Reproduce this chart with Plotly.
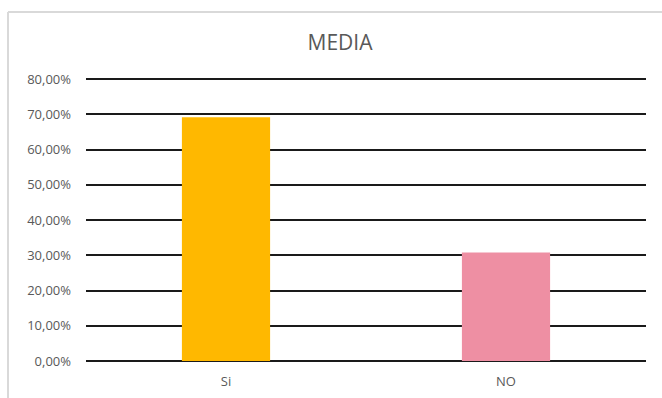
import plotly.graph_objects as go

categories = ["Si", "NO"]
values = [0.692, 0.308]
colors = ["#FFB800", "#EE8FA3"]
title_text = "MEDIA"
y_ticks = [0, 0.1, 0.2, 0.3, 0.4, 0.5, 0.6, 0.7, 0.8]

W, H = 662, 398
L, R, T, B = 86, 16, 77, 37
pw, ph = W - L - R, H - T - B

fig = go.Figure(go.Bar(x=categories, y=values, marker_color=colors, marker_line_width=0, width=0.315))

fig.update_layout(
    width=W, height=H,
    margin=dict(l=L, r=R, t=T, b=B, autoexpand=False),
    paper_bgcolor="white", plot_bgcolor="white",
    separators=",.",
    showlegend=False,
    title=dict(text=title_text, x=340 / W, xanchor="center", y=1 - 43 / H, yanchor="middle",
               font=dict(family="Open Sans", size=21, color="#595959")),
    font=dict(family="Open Sans", size=13, color="#595959"),
    xaxis=dict(showgrid=False, showline=False, ticks="", automargin=False, ticklabelstandoff=11,
               tickfont=dict(size=13, color="#595959")),
    yaxis=dict(range=[0, 0.806], tickvals=y_ticks,
               tickformat=".2%", showgrid=True, gridcolor="#1a1a1a", automargin=False,
               gridwidth=2, zeroline=True, zerolinecolor="#1a1a1a", zerolinewidth=2,
               showline=False, ticks="", ticklabelstandoff=14, tickfont=dict(size=13, color="#595959")),
    shapes=[
        dict(type="line", xref="paper", yref="paper",
             x0=(8 - L) / pw, x1=(8 - L) / pw, y0=1 + (T - 12) / ph, y1=-(B + 2) / ph,
             line=dict(color="#d9d9d9", width=2)),
        dict(type="line", xref="paper", yref="paper",
             x0=(8 - L) / pw, x1=(W + 2 - L) / pw, y0=1 + (T - 12) / ph, y1=1 + (T - 12) / ph,
             line=dict(color="#d9d9d9", width=2)),
    ],
)

fig.write_html("out.html", config={"displayModeBar": False},
               post_script="document.body.style.margin='0';document.body.style.overflow='hidden';")
